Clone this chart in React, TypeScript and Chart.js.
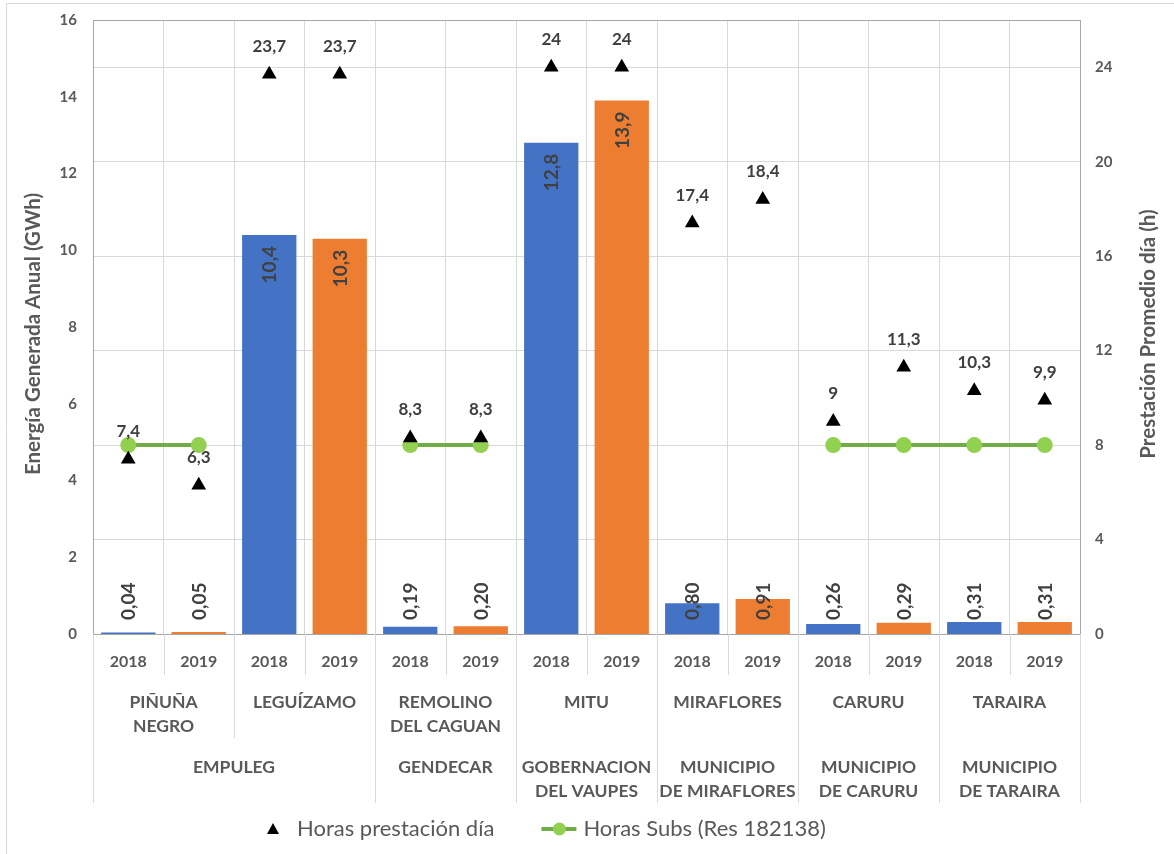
import React, { useEffect, useRef } from 'react';
import { Chart, registerables } from 'chart.js';

Chart.register(...registerables);

// ---------- DATA ----------
const years = ['2018', '2019', '2018', '2019', '2018', '2019', '2018', '2019', '2018', '2019', '2018', '2019', '2018', '2019'];
const locations = [['PIÑUÑA', 'NEGRO'], ['LEGUÍZAMO'], ['REMOLINO', 'DEL CAGUAN'], ['MITU'], ['MIRAFLORES'], ['CARURU'], ['TARAIRA']];
const companies = [['EMPULEG'], ['GENDECAR'], ['GOBERNACION', 'DEL VAUPES'], ['MUNICIPIO', 'DE MIRAFLORES'], ['MUNICIPIO', 'DE CARURU'], ['MUNICIPIO', 'DE TARAIRA']];
const companyLocationCounts = [2, 1, 1, 1, 1, 1];
const energyGWh = [0.04, 0.05, 10.4, 10.3, 0.19, 0.2, 12.8, 13.9, 0.8, 0.91, 0.26, 0.29, 0.31, 0.31];
const horasPrestacion = [7.4, 6.3, 23.7, 23.7, 8.3, 8.3, 24, 24, 17.4, 18.4, 9, 11.3, 10.3, 9.9];
const horasSubs = [8, 8, null, null, 8, 8, null, null, null, null, 8, 8, 8, 8];
const leftTitle = 'Energía Generada Anual (GWh)';
const rightTitle = 'Prestación Promedio día (h)';
const seriesNames = ['Energía', 'Horas prestación día', 'Horas Subs (Res 182138)'];

// ---------- STYLE ----------
const FONT = 'Lato, "Open Sans", "DejaVu Sans", sans-serif';
const GRAY = '#595959';
const DARK = '#404040';
const BLUE = '#4472c4';
const ORANGE = '#ed7d31';
const GRID = '#d9d9d9';

const fmtEnergy = (v: number) => (v < 1 ? v.toFixed(2) : v.toFixed(1)).replace('.', ',');
const fmtHours = (v: number) => String(v).replace('.', ',');

const customPlugin = {
  id: 'customDraw',
  beforeDraw(chart: any) {
    const ctx = chart.ctx;
    ctx.save();
    ctx.strokeStyle = GRID;
    ctx.lineWidth = 1;
    ctx.beginPath();
    ctx.moveTo(6.5, chart.height);
    ctx.lineTo(6.5, 3.5);
    ctx.lineTo(chart.width, 3.5);
    ctx.stroke();
    ctx.restore();
  },
  beforeDatasetsDraw(chart: any) {
    const { ctx, chartArea: a } = chart;
    ctx.save();
    ctx.strokeStyle = '#a6a6a6';
    ctx.lineWidth = 1;
    ctx.strokeRect(Math.round(a.left) + 0.5, Math.round(a.top) + 0.5, Math.round(a.right - a.left), Math.round(a.bottom - a.top));
    ctx.restore();
  },
  afterDatasetsDraw(chart: any) {
    const ctx = chart.ctx;
    ctx.save();
    // bar labels (rotated, inside end)
    const barMeta = chart.getDatasetMeta(2);
    ctx.font = `bold 19px ${FONT}`;
    ctx.fillStyle = DARK;
    ctx.textAlign = 'left';
    ctx.textBaseline = 'middle';
    barMeta.data.forEach((bar: any, i: number) => {
      const txt = fmtEnergy(energyGWh[i]);
      const w = ctx.measureText(txt).width;
      let startY = bar.y + 11 + w;
      if (startY > bar.base - 14) startY = bar.base - 14;
      ctx.save();
      ctx.translate(bar.x, startY);
      ctx.rotate(-Math.PI / 2);
      ctx.fillText(txt, 0, 1);
      ctx.restore();
    });
    // triangle labels
    const triMeta = chart.getDatasetMeta(0);
    ctx.font = `bold 17px ${FONT}`;
    ctx.textAlign = 'center';
    triMeta.data.forEach((p: any, i: number) => {
      ctx.fillText(fmtHours(horasPrestacion[i]), p.x, p.y - 28);
    });
    ctx.restore();
  },
  afterDraw(chart: any) {
    const { ctx, chartArea: a } = chart;
    const xs = chart.scales.x;
    const n = years.length;
    const half = (xs.getPixelForValue(1) - xs.getPixelForValue(0)) / 2;
    const edge = (i: number) => xs.getPixelForValue(i) - half;
    ctx.save();
    // separators below axis
    ctx.strokeStyle = GRID;
    ctx.lineWidth = 1;
    const companyEdges = new Set<number>([0, n]);
    let acc = 0;
    companyLocationCounts.forEach((c) => { acc += c * 2; companyEdges.add(acc); });
    for (let i = 0; i <= n; i++) {
      let bottom = 675;
      if (companyEdges.has(i)) bottom = 803;
      else if (i % 2 === 0) bottom = 738;
      const x = Math.round(i === n ? xs.getPixelForValue(n - 1) + half : edge(i)) + 0.5;
      ctx.beginPath();
      ctx.moveTo(x, a.bottom);
      ctx.lineTo(x, bottom);
      ctx.stroke();
    }
    // years
    ctx.fillStyle = GRAY;
    ctx.textAlign = 'center';
    ctx.textBaseline = 'middle';
    ctx.font = `bold 16px ${FONT}`;
    years.forEach((y, i) => ctx.fillText(y, xs.getPixelForValue(i), 662));
    // locations
    ctx.font = `bold 17.5px ${FONT}`;
    locations.forEach((lines, j) => {
      const cx = (xs.getPixelForValue(2 * j) + xs.getPixelForValue(2 * j + 1)) / 2;
      lines.forEach((t, k) => ctx.fillText(t, cx, 702 + k * 24));
    });
    // companies
    let start = 0;
    companies.forEach((lines, j) => {
      const cnt = companyLocationCounts[j] * 2;
      const cx = (xs.getPixelForValue(start) + xs.getPixelForValue(start + cnt - 1)) / 2;
      lines.forEach((t, k) => ctx.fillText(t, cx, 767 + k * 24));
      start += cnt;
    });
    // axis titles
    ctx.font = `bold 20.5px ${FONT}`;
    const cy = (a.top + a.bottom) / 2 + 7;
    ctx.save();
    ctx.translate(33, cy);
    ctx.rotate(-Math.PI / 2);
    ctx.fillText(leftTitle, 0, 0);
    ctx.restore();
    ctx.save();
    ctx.translate(1148, cy);
    ctx.rotate(-Math.PI / 2);
    ctx.fillText(rightTitle, 0, 0);
    ctx.restore();
    // legend
    const ly = 829;
    ctx.font = `22px ${FONT}`;
    ctx.textAlign = 'left';
    let lx = 266;
    ctx.fillStyle = '#000';
    ctx.beginPath();
    ctx.moveTo(lx + 7, ly - 6);
    ctx.lineTo(lx + 13, ly + 5);
    ctx.lineTo(lx + 1, ly + 5);
    ctx.closePath();
    ctx.fill();
    lx = 297;
    ctx.fillStyle = GRAY;
    const l1 = chart.data.datasets[0].label;
    ctx.fillText(l1, lx, ly);
    lx += ctx.measureText(l1).width + 47;
    ctx.strokeStyle = '#70ad47';
    ctx.lineWidth = 4;
    ctx.beginPath();
    ctx.moveTo(lx, ly);
    ctx.lineTo(lx + 35, ly);
    ctx.stroke();
    ctx.fillStyle = '#92d050';
    ctx.beginPath();
    ctx.arc(lx + 18, ly, 6.5, 0, Math.PI * 2);
    ctx.fill();
    lx += 42;
    ctx.fillStyle = GRAY;
    ctx.fillText(chart.data.datasets[1].label, lx, ly);
    ctx.restore();
  },
};

export default function App() {
  const ref = useRef<HTMLCanvasElement | null>(null);
  useEffect(() => {
    if (!ref.current) return;
    Chart.defaults.font.family = FONT;
    const chart = new Chart(ref.current, {
      type: 'bar',
      data: {
        labels: years,
        datasets: [
          {
            type: 'line',
            label: seriesNames[1],
            data: horasPrestacion,
            yAxisID: 'y1',
            showLine: false,
            pointStyle: 'triangle',
            pointRadius: 8.5,
            pointBackgroundColor: '#000',
            pointBorderColor: '#000',
            pointBorderWidth: 0,
            order: 0,
          },
          {
            type: 'line',
            label: seriesNames[2],
            data: horasSubs,
            yAxisID: 'y1',
            borderColor: '#70ad47',
            borderWidth: 4,
            pointRadius: 8,
            pointBackgroundColor: '#92d050',
            pointBorderColor: '#92d050',
            pointBorderWidth: 0,
            spanGaps: false,
            order: 1,
          },
          {
            type: 'bar',
            label: seriesNames[0],
            data: energyGWh,
            yAxisID: 'y',
            backgroundColor: years.map((y) => (y === '2018' ? BLUE : ORANGE)),
            categoryPercentage: 0.77,
            barPercentage: 1,
            order: 2,
          },
        ],
      } as any,
      options: {
        responsive: false,
        animation: false,
        layout: { padding: { top: 20, bottom: 220, left: 0, right: 0 } },
        plugins: { legend: { display: false }, tooltip: { enabled: false } },
        scales: {
          x: {
            offset: true,
            grid: { display: true, color: GRID, drawTicks: false, offset: true },
            border: { display: false },
            ticks: { display: false },
            afterFit: (s: any) => { s.height = 0; },
          },
          y: {
            position: 'left',
            min: 0,
            max: 16,
            ticks: { stepSize: 2, padding: 16, color: GRAY, font: { size: 15, weight: 'bold' } },
            grid: { display: false, drawTicks: false },
            border: { display: false },
            afterFit: (s: any) => { s.width = 93; s.paddingTop = 0; s.paddingBottom = 0; },
          },
          y1: {
            position: 'right',
            min: 0,
            max: 26,
            ticks: { stepSize: 4, padding: 15, color: GRAY, font: { size: 15, weight: 'bold' } },
            grid: { display: true, color: GRID, drawTicks: false },
            border: { display: false },
            afterBuildTicks: (s: any) => { s.ticks = s.ticks.filter((t: any) => t.value <= 24); },
            afterFit: (s: any) => { s.width = 94; s.paddingTop = 0; s.paddingBottom = 0; },
          },
        },
      } as any,
      plugins: [customPlugin],
    });
    return () => chart.destroy();
  }, []);
  return (
    <div style={{ position: 'fixed', left: 0, top: 0, width: 1174, height: 854, background: '#fff' }}>
      <canvas ref={ref} width={1174} height={854} style={{ display: 'block' }} />
    </div>
  );
}
